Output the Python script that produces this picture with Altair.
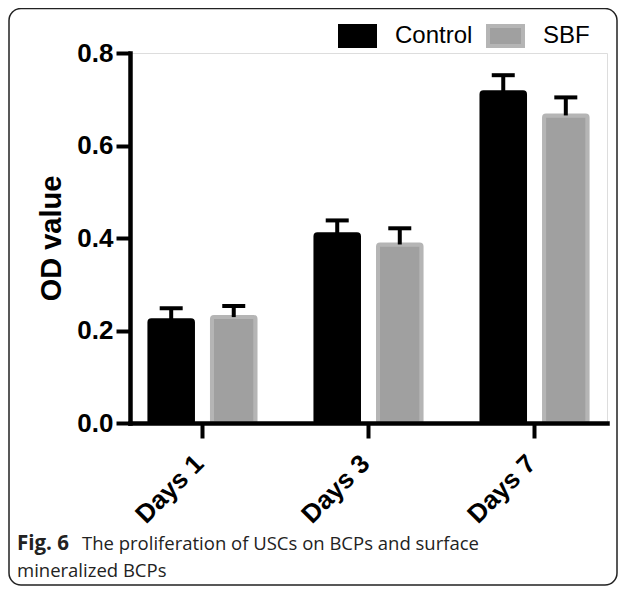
import altair as alt
import pandas as pd

days = ["Days 1", "Days 3", "Days 7"]
groups = ["Control", "SBF"]
control_mean = [0.222, 0.408, 0.715]
control_upper = [0.248, 0.438, 0.752]
sbf_mean = [0.229, 0.386, 0.665]
sbf_upper = [0.253, 0.421, 0.704]
y_ticks = [0.0, 0.2, 0.4, 0.6, 0.8]
caption_bold = ["Fig. 6"]
caption_line1 = ["The proliferation of USCs on BCPs and surface"]
caption_line2 = ["mineralized BCPs"]

rows = []
for i, d in enumerate(days):
    rows.append({"day": d, "group": "Control", "mean": control_mean[i], "upper": control_upper[i]})
    rows.append({"day": d, "group": "SBF", "mean": sbf_mean[i], "upper": sbf_upper[i]})
df = pd.DataFrame(rows)

W, H = 477, 370

x_enc = alt.X("day:N", sort=days,
              scale=alt.Scale(paddingInner=0.361, paddingOuter=0.117),
              axis=alt.Axis(title=None, labelAngle=-45, labelAlign="right", labelBaseline="top",
                            labelPadding=12, labelOffset=-12, tickSize=15, zindex=1,
                            domainWidth=4.5, domainColor="black", tickWidth=4, tickColor="black"))
xo_enc = alt.XOffset("group:N", sort=groups, scale=alt.Scale(paddingInner=0.304, paddingOuter=0))
y_enc = alt.Y("mean:Q", scale=alt.Scale(domain=[0, 0.8], nice=False, zero=True),
              axis=alt.Axis(values=y_ticks, format=".1f", title="OD value", zindex=1,
                            titleFontSize=29, titlePadding=10, labelPadding=3, tickSize=14,
                            domainWidth=4.5, domainColor="black", tickWidth=4, tickColor="black"))

legend = alt.Legend(title=None, orient="none", legendX=215.5, legendY=-29, direction="horizontal",
                    columns=2, symbolType="M-1.75,-1H1.75V1H-1.75Z", symbolSize=400,
                    symbolStrokeWidth=4, labelFont="Liberation Sans", labelFontSize=24,
                    labelColor="black", labelOffset=25.5, columnPadding=7, padding=0)

bars = alt.Chart(df).mark_bar(strokeWidth=4, cornerRadius=2).encode(
    x=x_enc, xOffset=xo_enc, y=y_enc,
    color=alt.Color("group:N", sort=groups,
                    scale=alt.Scale(domain=groups, range=["#000000", "#a0a0a0"]), legend=legend),
    stroke=alt.Stroke("group:N", sort=groups,
                      scale=alt.Scale(domain=groups, range=["#000000", "#b5b5b5"]), legend=legend),
)

err = alt.Chart(df).mark_rule(strokeWidth=4, color="black").encode(
    x=alt.X("day:N", sort=days), xOffset=alt.XOffset("group:N", sort=groups),
    y=alt.Y("mean:Q"), y2="upper:Q")

caps = alt.Chart(df).mark_tick(thickness=4, size=23, color="black", opacity=1).encode(
    x=alt.X("day:N", sort=days), xOffset=alt.XOffset("group:N", sort=groups),
    y=alt.Y("upper:Q"))

frame = alt.Chart(pd.DataFrame({"k": [0]})).mark_rect(
    filled=False, stroke="#222222", strokeWidth=1.5, cornerRadius=12).encode(
    x=alt.value(-121), x2=alt.value(487), y=alt.value(-44.5), y2=alt.value(532))

cap_b = alt.Chart(pd.DataFrame({"t": caption_bold})).mark_text(
    align="left", baseline="alphabetic", font="Open Sans", fontSize=20.5, fontWeight="bold",
    color="#222222").encode(x=alt.value(-113), y=alt.value(497), text="t:N")
cap_1 = alt.Chart(pd.DataFrame({"t": caption_line1})).mark_text(
    align="left", baseline="alphabetic", font="Open Sans", fontSize=18.5,
    color="#222222").encode(x=alt.value(-48), y=alt.value(497), text="t:N")
cap_2 = alt.Chart(pd.DataFrame({"t": caption_line2})).mark_text(
    align="left", baseline="alphabetic", font="Open Sans", fontSize=18.5,
    color="#222222").encode(x=alt.value(-113), y=alt.value(524), text="t:N")

chart = alt.layer(frame, bars, err, caps, cap_b, cap_1, cap_2).properties(
    width=W, height=H,
    autosize=alt.AutoSizeParams(type="none"),
    padding={"left": 122, "top": 45, "right": 11, "bottom": 163},
).configure_view(stroke=None).configure(background="white").configure_axis(
    labelFont="Liberation Sans", labelFontWeight="bold", labelFontSize=26, labelColor="black",
    titleFont="Liberation Sans", titleFontWeight="bold", titleColor="black",
    tickWidth=4, tickColor="black", domainWidth=4.5, domainColor="black", grid=False,
    domainCap="square")

chart.save("out.html", embed_options={"renderer": "svg", "actions": False})
